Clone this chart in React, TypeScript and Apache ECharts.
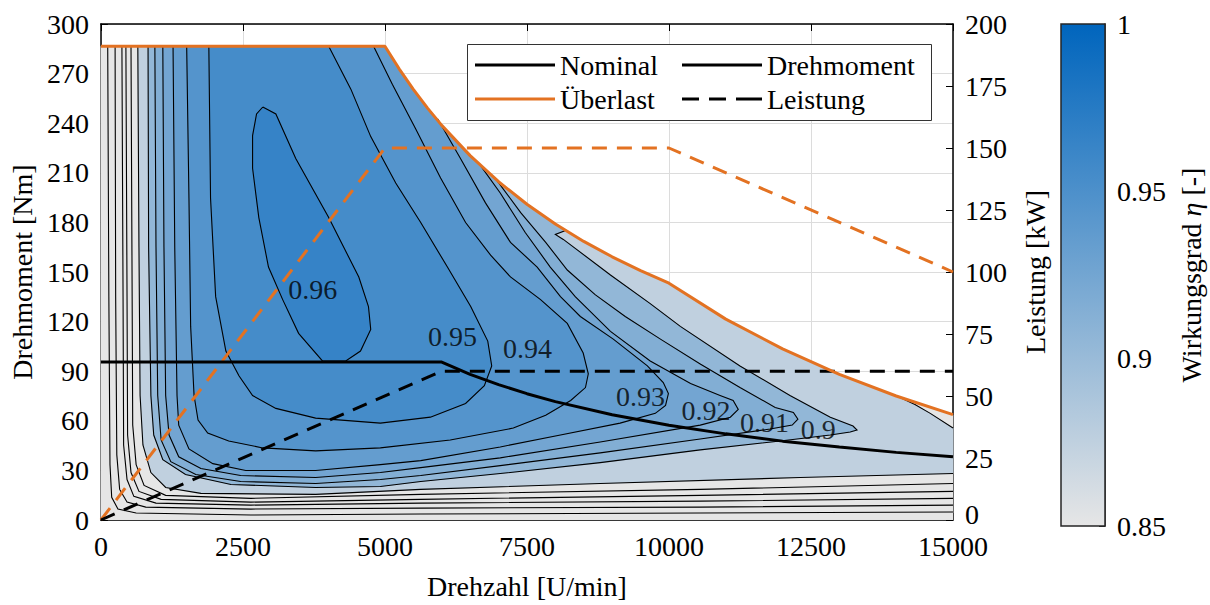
import React, { useEffect, useRef } from "react";
import * as echarts from "echarts";

const FONT = "Liberation Serif, Times New Roman, serif";

// ---------------- data ----------------
// Überlast (overload) torque curve
const overloadRpm = [0, 5000, 5250, 5500, 5750, 6000, 6500, 7000, 7500, 8000, 8500, 9000, 9500, 10000, 11000, 12000, 13000, 14000, 15000];
const overloadTorque = [286.5, 286.5, 272.9, 260.5, 249.1, 238.7, 220.4, 204.6, 191.0, 179.0, 168.5, 159.2, 150.8, 143.2, 121.5, 103.5, 88.1, 75.0, 63.7];
// Nominal torque curve
const nominalRpm = [0, 6000, 6500, 7000, 7500, 8000, 9000, 10000, 11000, 12000, 13000, 14000, 15000];
const nominalTorque = [95.5, 95.5, 88.1, 81.9, 76.4, 71.6, 63.7, 57.3, 52.1, 47.7, 44.1, 40.9, 38.2];
// Power curves (right axis, kW)
const overloadPowerRpm = [0, 5000, 10000, 15000];
const overloadPowerKw = [0, 150, 150, 100];
const nominalPowerRpm = [0, 6000, 15000];
const nominalPowerKw = [0, 60, 60];

// Efficiency contour levels and contour lines [rpm, Nm]
const contourLevels = [0.5, 0.6, 0.7, 0.75, 0.8, 0.85, 0.9, 0.91, 0.92, 0.93, 0.94, 0.95, 0.96];
const eta050 = [[120, 286.5], [140, 135.1], [160, 33.5], [190, 13.7], [300, 6.6], [620, 4.2], [2640, 3.0], [5630, 3.6], [10550, 4.2], [15000, 4.8]];
const eta060 = [[250, 286.5], [260, 135.1], [280, 39.4], [330, 18.5], [460, 10.8], [790, 7.8], [2640, 6.6], [5630, 7.2], [10550, 7.8], [15000, 9.0]];
const eta070 = [[370, 286.5], [390, 135.1], [400, 45.4], [460, 24.5], [580, 14.3], [970, 10.2], [2640, 9.0], [5630, 10.2], [10550, 11.4], [15000, 13.1]];
const eta075 = [[440, 286.5], [460, 135.1], [470, 51.4], [530, 28.7], [670, 17.3], [1060, 12.5], [2640, 10.8], [5630, 12.5], [10550, 14.9], [15000, 17.3]];
const eta080 = [[530, 286.5], [550, 135.1], [560, 57.4], [620, 33.5], [760, 20.9], [1140, 14.9], [2640, 13.1], [5630, 15.5], [10550, 18.5], [15000, 22.1]];
const eta085 = [[650, 286.5], [670, 164.9], [690, 75.3], [740, 45.4], [880, 28.7], [1140, 19.7], [1760, 16.1], [3780, 15.5], [5630, 18.5], [8790, 22.1], [12310, 25.7], [15000, 28.1]];
const eta085b = [[14030, 74.7], [14330, 69.9], [14600, 64.5], [15000, 55.6]];
const eta090 = [[830, 286.5], [840, 164.9], [880, 75.3], [930, 51.4], [1090, 36.5], [1490, 27.5], [2290, 21.5], [3780, 19.7], [4920, 20.3], [5630, 23.3], [7030, 28.1], [8790, 34.7], [10550, 42.4], [11960, 47.8], [12840, 51.4], [13190, 53.2], [13310, 54.4], [13240, 56.8], [12840, 62.2], [12130, 75.3], [11250, 93.2], [10200, 117.1], [9670, 130.9], [8970, 148.2], [8350, 164.3], [8140, 169.7], [8000, 172.7], [8180, 175.1]];
const eta091 = [[950, 286.5], [970, 164.9], [1000, 75.3], [1060, 48.4], [1230, 35.3], [1670, 27.5], [2460, 23.3], [3780, 22.1], [4920, 24.5], [5630, 26.9], [7030, 32.9], [8790, 40.6], [10550, 49.0], [11780, 55.0], [12170, 57.4], [12270, 61.0], [12190, 65.1], [11870, 68.1], [11250, 80.1], [10550, 94.4], [9850, 109.4], [9230, 123.1], [8700, 136.3], [8210, 151.2], [7830, 167.9], [7390, 185.9], [6980, 205.0]];
const eta092 = [[1090, 286.5], [1110, 164.9], [1140, 75.3], [1200, 51.4], [1370, 38.2], [1760, 31.1], [2460, 26.9], [3780, 25.7], [4920, 28.7], [5630, 31.7], [7030, 37.6], [8790, 47.2], [10550, 57.4], [11080, 62.2], [11220, 66.9], [11130, 72.3], [10900, 75.3], [10380, 82.5], [9670, 96.2], [8970, 114.1], [8350, 135.1], [7910, 153.0], [7470, 173.9], [7030, 197.8], [6680, 214.5]];
const eta093 = [[1270, 286.5], [1300, 164.9], [1340, 75.3], [1370, 57.4], [1550, 43.0], [1970, 34.1], [2550, 29.9], [3780, 29.9], [4920, 33.5], [5630, 35.9], [7030, 44.2], [8090, 51.4], [9140, 58.6], [9760, 64.5], [9940, 69.3], [9990, 76.5], [9900, 83.1], [9620, 93.2], [9020, 109.4], [8440, 123.1], [8090, 135.1], [7680, 153.0], [7210, 167.9], [6770, 191.8], [6330, 218.7], [5930, 242.6]];
const eta094 = [[1510, 286.5], [1550, 194.8], [1580, 117.1], [1640, 75.3], [1710, 60.4], [1880, 52.6], [2250, 47.8], [2850, 43.6], [3780, 41.8], [4920, 43.6], [6150, 48.4], [7260, 55.6], [7830, 63.3], [8270, 72.3], [8530, 80.1], [8580, 88.4], [8490, 101.0], [8210, 118.9], [7740, 133.3], [7210, 147.0], [6860, 160.2], [6420, 179.9], [5980, 206.8], [5540, 236.7], [5130, 263.6], [4800, 286.5]];
const eta095 = [[1900, 286.5], [1930, 194.8], [2020, 135.1], [2200, 102.2], [2430, 87.2], [2670, 75.3], [3080, 67.5], [3780, 61.6], [4920, 58.6], [5800, 62.2], [6420, 70.5], [6750, 81.3], [6880, 93.2], [6810, 108.2], [6510, 129.1], [6100, 153.0], [5630, 179.9], [5190, 203.8], [4750, 231.9], [4400, 260.6], [4010, 286.5]];
const eta096 = [[2850, 249.8], [3080, 245.6], [3430, 218.7], [4010, 182.9], [4540, 147.0], [4710, 129.1], [4750, 115.3], [4570, 102.2], [4310, 96.2], [3900, 96.2], [3480, 112.9], [3200, 133.3], [2950, 153.0], [2780, 182.9], [2670, 212.7], [2670, 232.5], [2740, 245.6], [2850, 249.8]];
const contourPieces = [[eta050], [eta060], [eta070], [eta075], [eta080], [eta085, eta085b], [eta090], [eta091], [eta092], [eta093], [eta094], [eta095], [eta096]];

// Contour labels
const labelText = ["0.96", "0.95", "0.94", "0.93", "0.92", "0.91", "0.9"];
const labelRpm = [3730, 6190, 7510, 9500, 10650, 11680, 12630];
const labelNm = [139.5, 111.0, 104.0, 74.5, 66.5, 59.0, 55.0];

// Colour scale
const etaMin = 0.85;
const etaMax = 1;
const cmapLow = [230, 230, 230];
const cmapHigh = [0, 101, 189];

// ---------------- helpers ----------------
function cmap(v: number) {
  const t = Math.min(1, Math.max(0, (v - etaMin) / (etaMax - etaMin)));
  const c = cmapLow.map((a, i) => Math.round(a + (cmapHigh[i] - a) * t));
  return `rgb(${c[0]},${c[1]},${c[2]})`;
}

function closeAlongOverload(pts: number[][]) {
  const sx = pts[0][0];
  const ex = pts[pts.length - 1][0];
  const out = pts.slice();
  for (let i = overloadRpm.length - 1; i >= 0; i--) {
    if (overloadRpm[i] > sx && overloadRpm[i] <= ex) out.push([overloadRpm[i], overloadTorque[i]]);
  }
  return out;
}

const regions: { pts: number[][]; color: string }[] = [];
regions.push({
  pts: overloadRpm.map((x, i) => [x, overloadTorque[i]]).concat([[15000, 0], [0, 0]]),
  color: cmap(0),
});
contourLevels.forEach((lev, k) => {
  if (lev < etaMin) return;
  const next = k + 1 < contourLevels.length ? contourLevels[k + 1] : lev + 0.01;
  const pieces = contourPieces[k];
  let pts = pieces[0].slice();
  if (pieces[1]) pts = pts.concat(pieces[1].slice().reverse());
  regions.push({ pts: closeAlongOverload(pts), color: cmap((lev + next) / 2) });
});

const zip = (a: number[], b: number[]) => a.map((x, i) => [x, b[i]]);

const axisLineStyle = { show: true, onZero: false, lineStyle: { color: "#000", width: 1.5 } };
const tickStyle = { show: true, inside: true, length: 7, lineStyle: { color: "#000", width: 1 } };
const labelStyle = { color: "#000", fontSize: 28, fontFamily: FONT, lineHeight: 20 };
const nameStyle = { fontSize: 28, color: "#000", fontFamily: FONT };
const plain = (v: number) => String(Math.round(v * 100) / 100);

const legendText = { fontSize: 28, color: "#000", fontFamily: FONT };
const solidIcon = "rect";
const dashedIcon = "path://M0,0h17v3h-17z M27,0h17v3h-17z M54,0h26v3h-26z";

export default function App() {
  const ref = useRef<HTMLDivElement>(null);
  useEffect(() => {
    if (!ref.current) return;
    const chart = echarts.init(ref.current, null, { renderer: "svg" });
    const option: any = {
      animation: false,
      backgroundColor: "#fff",
      textStyle: { fontFamily: FONT },
      grid: [
        { left: 100, right: 257, top: 24, bottom: 79 },
        { left: 1061, width: 44, top: 24, bottom: 79 },
      ],
      graphic: [
        {
          type: "rect",
          left: 467,
          top: 44,
          z: 50,
          shape: { width: 464, height: 76 },
          style: { fill: "#fff", stroke: "#333", lineWidth: 1 },
        },
      ],
      legend: [
        {
          data: [
            { name: "Nominal", icon: solidIcon },
            { name: "Überlast", icon: solidIcon },
          ],
          orient: "vertical",
          left: 470,
          top: 46,
          z: 60,
          itemWidth: 80,
          itemHeight: 3,
          itemGap: 6,
          textStyle: legendText,
          selectedMode: false,
        },
        {
          data: [
            { name: "Drehmoment", icon: solidIcon },
            { name: "Leistung", icon: dashedIcon },
          ],
          orient: "vertical",
          left: 677,
          top: 46,
          z: 60,
          itemWidth: 80,
          itemHeight: 3,
          itemGap: 6,
          textStyle: legendText,
          selectedMode: false,
        },
      ],
      xAxis: [
        {
          gridIndex: 0,
          type: "value",
          position: "bottom",
          min: 0,
          max: 15000,
          interval: 2500,
          name: "Drehzahl [U/min]",
          nameLocation: "middle",
          nameGap: 52,
          nameTextStyle: nameStyle,
          axisLine: axisLineStyle,
          axisTick: tickStyle,
          axisLabel: { ...labelStyle, margin: 16, formatter: plain },
          splitLine: { show: true, lineStyle: { color: "#dcdcdc", width: 1 } },
        },
        {
          gridIndex: 0,
          type: "value",
          position: "top",
          min: 0,
          max: 15000,
          interval: 2500,
          axisLine: axisLineStyle,
          axisTick: tickStyle,
          axisLabel: { show: false },
          splitLine: { show: false },
        },
        { gridIndex: 1, type: "value", min: 0, max: 1, show: false },
      ],
      yAxis: [
        {
          gridIndex: 0,
          type: "value",
          position: "left",
          min: 0,
          max: 300,
          interval: 30,
          name: "Drehmoment [Nm]",
          nameLocation: "middle",
          nameGap: 62,
          nameTextStyle: nameStyle,
          axisLine: axisLineStyle,
          axisTick: tickStyle,
          axisLabel: { ...labelStyle, margin: 12, formatter: plain },
          splitLine: { show: true, lineStyle: { color: "#dcdcdc", width: 1 } },
        },
        {
          gridIndex: 0,
          type: "value",
          position: "right",
          min: 0,
          max: 200,
          interval: 25,
          name: "Leistung [kW]",
          nameLocation: "middle",
          nameGap: 68,
          nameTextStyle: nameStyle,
          axisLine: axisLineStyle,
          axisTick: tickStyle,
          axisLabel: {
            ...labelStyle,
            margin: 12,
            formatter: (v: number) => (v === 0 ? "{z|0}" : plain(v)),
            rich: { z: { fontSize: 28, fontFamily: FONT, color: "#000", lineHeight: 20, padding: [0, 0, 12, 0] } },
          },
          splitLine: { show: false },
        },
        {
          gridIndex: 1,
          type: "value",
          position: "right",
          min: etaMin,
          max: etaMax,
          interval: 0.05,
          name: "Wirkungsgrad {it|η} [-]",
          nameLocation: "middle",
          nameGap: 72,
          nameTextStyle: {
            ...nameStyle,
            rich: { it: { fontStyle: "italic", fontSize: 28, fontFamily: FONT, color: "#000" } },
          },
          axisLine: { show: true, onZero: false, lineStyle: { color: "#262626", width: 1.5 } },
          axisTick: { show: true, inside: true, length: 6, lineStyle: { color: "#262626" } },
          axisLabel: { ...labelStyle, margin: 12, formatter: plain },
          splitLine: { show: false },
        },
      ],
      series: [
        {
          type: "custom",
          name: "fill",
          xAxisIndex: 0,
          yAxisIndex: 0,
          z: 1,
          silent: true,
          clip: true,
          data: regions.map((_, i) => [i, 0]),
          renderItem: (params: any, api: any) => {
            const r = regions[params.dataIndex];
            return {
              type: "polygon",
              shape: { points: r.pts.map((p) => api.coord(p)) },
              style: { fill: r.color, stroke: r.color, lineWidth: 0.6 },
            };
          },
        },
        {
          type: "custom",
          name: "contours",
          xAxisIndex: 0,
          yAxisIndex: 0,
          z: 2,
          silent: true,
          clip: true,
          data: contourPieces.map((_, i) => [i, 0]),
          renderItem: (params: any, api: any) => {
            const pieces = contourPieces[params.dataIndex];
            return {
              type: "group",
              children: pieces.map((pc) => ({
                type: "polyline",
                shape: { points: pc.map((p) => api.coord(p)) },
                style: { stroke: "#000", lineWidth: 1.1, fill: null },
              })),
            };
          },
        },
        {
          type: "line",
          name: "Überlast Leistung",
          xAxisIndex: 0,
          yAxisIndex: 1,
          z: 3,
          symbol: "none",
          data: zip(overloadPowerRpm, overloadPowerKw),
          lineStyle: { color: "#e37222", width: 3, type: [15, 10] },
          itemStyle: { color: "#e37222" },
        },
        {
          type: "line",
          name: "Leistung",
          xAxisIndex: 0,
          yAxisIndex: 1,
          z: 3,
          symbol: "none",
          data: zip(nominalPowerRpm, nominalPowerKw),
          lineStyle: { color: "#000", width: 3, type: [15, 10] },
          itemStyle: { color: "#000" },
        },
        {
          type: "line",
          name: "Überlast",
          xAxisIndex: 0,
          yAxisIndex: 0,
          z: 4,
          symbol: "none",
          data: zip(overloadRpm, overloadTorque),
          lineStyle: { color: "#e37222", width: 3 },
          itemStyle: { color: "#e37222" },
        },
        {
          type: "line",
          name: "Nominal",
          xAxisIndex: 0,
          yAxisIndex: 0,
          z: 4,
          symbol: "none",
          data: zip(nominalRpm, nominalTorque),
          lineStyle: { color: "#000", width: 3 },
          itemStyle: { color: "#000" },
        },
        {
          type: "line",
          name: "Drehmoment",
          xAxisIndex: 0,
          yAxisIndex: 0,
          symbol: "none",
          data: [],
          lineStyle: { color: "#000", width: 3 },
          itemStyle: { color: "#000" },
        },
        {
          type: "scatter",
          name: "labels",
          xAxisIndex: 0,
          yAxisIndex: 0,
          z: 5,
          silent: true,
          symbolSize: 1,
          itemStyle: { color: "rgba(0,0,0,0)" },
          data: labelRpm.map((x, i) => [x, labelNm[i], labelText[i]]),
          label: {
            show: true,
            position: "inside",
            formatter: (p: any) => p.value[2],
            color: "#000",
            fontSize: 28,
            fontFamily: FONT,
          },
        },
        {
          type: "custom",
          name: "colorbar",
          xAxisIndex: 2,
          yAxisIndex: 2,
          silent: true,
          data: [[0, etaMin]],
          renderItem: (params: any, api: any) => {
            const p0 = api.coord([0, etaMin]);
            const p1 = api.coord([1, etaMax]);
            return {
              type: "rect",
              shape: { x: p0[0], y: p1[1], width: p1[0] - p0[0], height: p0[1] - p1[1] },
              style: {
                fill: new echarts.graphic.LinearGradient(0, 0, 0, 1, [
                  { offset: 0, color: cmap(etaMax) },
                  { offset: 1, color: cmap(etaMin) },
                ]),
                stroke: "#262626",
                lineWidth: 1.5,
              },
            };
          },
        },
      ],
    };
    chart.setOption(option);
    return () => chart.dispose();
  }, []);
  return (
    <div
      ref={ref}
      style={{ position: "absolute", left: 0, top: 0, width: 1210, height: 605 }}
    />
  );
}
